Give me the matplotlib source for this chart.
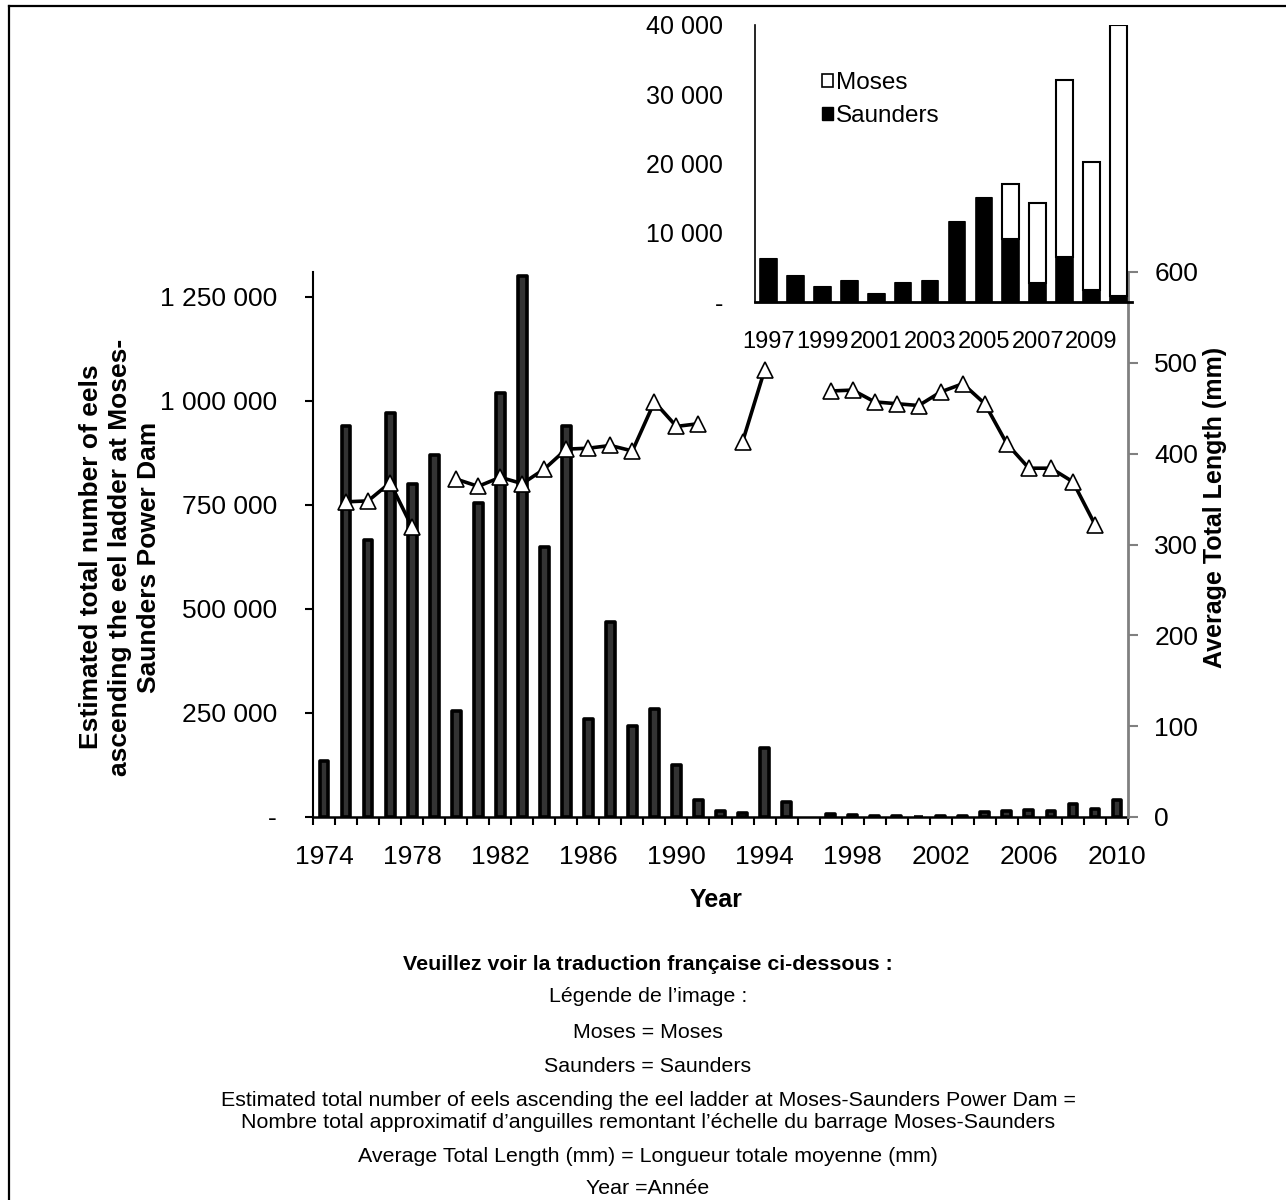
import numpy as np
import matplotlib.pyplot as plt
from matplotlib.patches import Patch
from matplotlib.ticker import FuncFormatter

plt.rcParams['font.family'] = ['Liberation Sans', 'DejaVu Sans']

# main chart: 1974-2010
YEARS = list(range(1974, 2011))
# estimated eels ascending, 1974-1996 (1996 no count)
EARLY_COUNTS = [135000, 940000, 665000, 970000, 800000, 870000, 255000, 755000,
                1020000, 1300000, 650000, 940000, 235000, 468000, 218000, 260000,
                125000, 41000, 14500, 9000, 166000, 36000, np.nan]
# average total length (mm), gaps where not measured
LENGTH = [np.nan, 347, 348, 368, 319, np.nan, 372, 364, 374, 367, 383, 405, 406,
          409, 403, 457, 430, 433, np.nan, 413, 492, np.nan, np.nan, 469, 470,
          457, 455, 453, 468, 477, 455, 411, 384, 384, 369, 322, np.nan]

# inset: 1997-2010, split by ladder
INSET_YEARS = list(range(1997, 2011))
SAUNDERS = [6200, 3700, 2200, 3000, 1200, 2750, 3000, 11550, 15000, 9100, 2750, 6500, 1800, 900]
MOSES = [0, 0, 0, 0, 0, 0, 0, 0, 0, 8000, 11550, 25600, 18400, 39100]

MAIN_YTICKS = [0, 250000, 500000, 750000, 1000000, 1250000]
RIGHT_YTICKS = [0, 100, 200, 300, 400, 500, 600]
INSET_YTICKS = [0, 10000, 20000, 30000, 40000]

totals = np.array(SAUNDERS) + np.array(MOSES)
counts = np.array(EARLY_COUNTS + list(totals), dtype=float)
x = np.arange(len(YEARS))

def spaced(v, pos=None):
    if v == 0:
        return '-'
    return '{:,}'.format(int(v)).replace(',', ' ')

W, H = 1286, 1200
fig = plt.figure(figsize=(W/100, H/100), dpi=100)

ax = fig.add_axes([313/W, (H-817)/H, 815/W, 545/H])
ax.set_facecolor('none')
ok = ~np.isnan(counts)
ax.bar(x[ok], counts[ok], width=0.4, color='#333333', edgecolor='black',
       linewidth=2.6, joinstyle='round', zorder=2)
ax.set_xlim(-0.5, len(YEARS) - 0.5)
ax.set_ylim(0, 1310000)
ax.set_yticks(MAIN_YTICKS)
ax.yaxis.set_major_formatter(FuncFormatter(spaced))
ax.set_xticks(np.arange(-0.5, len(YEARS), 1.0))
ax.set_xticklabels([])
lab_idx = [i for i, y in enumerate(YEARS) if (y - 1974) % 4 == 0]
ax.set_xticks(lab_idx, minor=True)
ax.set_xticklabels([str(YEARS[i]) for i in lab_idx], minor=True)
ax.tick_params(axis='x', which='major', length=6, width=1.5, direction='out')
ax.tick_params(axis='x', which='minor', length=0, pad=20, labelsize=19)
ax.tick_params(axis='y', length=6, width=1.5, direction='out', pad=20, labelsize=19)
for s in ['top', 'right']:
    ax.spines[s].set_visible(False)
ax.spines['left'].set_linewidth(1.5)
ax.spines['bottom'].set_linewidth(1.8)

ax2 = ax.twinx()
ax2.plot(x, LENGTH, color='black', linewidth=2.6, marker='^', markersize=12,
         markerfacecolor='white', markeredgecolor='black', markeredgewidth=1.2, zorder=3)
ax2.set_ylim(0, 600)
ax2.set_yticks(RIGHT_YTICKS)
ax2.tick_params(axis='y', length=7, width=1.5, color='#808080', pad=12, labelsize=19)
for s in ['top', 'left', 'bottom']:
    ax2.spines[s].set_visible(False)
ax2.spines['right'].set_color('#808080')
ax2.spines['right'].set_linewidth(2)

# inset with Moses / Saunders split
ins = fig.add_axes([755/W, (H-302)/H, 377/W, 277/H])
ins.set_facecolor('none')
xi = np.arange(len(INSET_YEARS))
ins.bar(xi, SAUNDERS, width=0.62, color='black', edgecolor='black', linewidth=1.2,
        label='Saunders')
ins.bar(xi, MOSES, bottom=SAUNDERS, width=0.62, color='white', edgecolor='black',
        linewidth=1.5, label='Moses')
ins.set_xlim(-0.5, len(INSET_YEARS) - 0.5)
ins.set_ylim(0, 40000)
ins.set_yticks(INSET_YTICKS)
ins.yaxis.set_major_formatter(FuncFormatter(spaced))
ins.set_xticks(xi[::2])
ins.set_xticklabels([str(y) for y in INSET_YEARS[::2]])
ins.tick_params(axis='y', length=0, pad=23, labelsize=18)
ins.tick_params(axis='x', length=0, pad=21, labelsize=17)
for s in ['top', 'right']:
    ins.spines[s].set_visible(False)
ins.spines['left'].set_linewidth(1.2)
ins.spines['bottom'].set_linewidth(2)
handles = [Patch(facecolor='white', edgecolor='black', linewidth=1.2),
           Patch(facecolor='black', edgecolor='black')]
ins.legend(handles, ['Moses', 'Saunders'], loc='upper left', bbox_to_anchor=(0.145, 0.875),
           frameon=False, fontsize=17.5, handlelength=0.45, handleheight=0.45,
           handletextpad=0.15, labelspacing=0.45, borderpad=0)

fig.text(120/W, (H-557)/H, 'Estimated total number of eels\nascending the eel ladder at Moses-\nSaunders Power Dam',
         rotation=90, ha='center', va='center', multialignment='center',
         fontsize=19, fontweight='bold', linespacing=1.25)
fig.text(1215/W, (H-507)/H, 'Average Total Length (mm)', rotation=90, ha='center',
         va='center', fontsize=18, fontweight='bold')
fig.text(716/W, (H-900)/H, 'Year', ha='center', va='center', fontsize=18, fontweight='bold')

notes = [("Veuillez voir la traduction française ci-dessous :", 965, 'bold'),
         ("Légende de l’image :", 997, 'normal'),
         ("Moses = Moses", 1033, 'normal'),
         ("Saunders = Saunders", 1067, 'normal'),
         ("Estimated total number of eels ascending the eel ladder at Moses-Saunders Power Dam =", 1100, 'normal'),
         ("Nombre total approximatif d’anguilles remontant l’échelle du barrage Moses-Saunders", 1122, 'normal'),
         ("Average Total Length (mm) = Longueur totale moyenne (mm)", 1156, 'normal'),
         ("Year =Année", 1188, 'normal')]
for txt, yy, wt in notes:
    fig.text(648/W, (H-yy)/H, txt, ha='center', va='center', fontsize=15.4, fontweight=wt)

# page frame (top and left edges)
fig.add_artist(plt.Line2D([9/W, 1.0], [(H-6)/H, (H-6)/H], color='black', linewidth=1.6))
fig.add_artist(plt.Line2D([9/W, 9/W], [0, (H-6)/H], color='black', linewidth=1.6))

fig.savefig('out.png', dpi=100)
